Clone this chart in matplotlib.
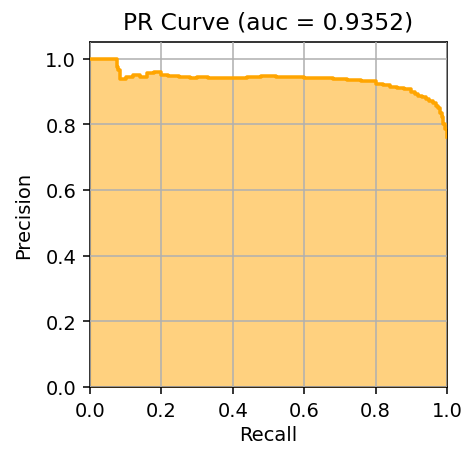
import matplotlib
matplotlib.use("Agg")
import matplotlib.pyplot as plt

# precision / recall pairs along the curve
recall = [0.0, 0.072, 0.075, 0.08, 0.084, 0.10, 0.12, 0.14, 0.16, 0.18, 0.20,
          0.22, 0.25, 0.28, 0.30, 0.33, 0.36, 0.40, 0.44, 0.48, 0.52, 0.56,
          0.60, 0.64, 0.68, 0.72, 0.76, 0.80, 0.82, 0.84, 0.86, 0.88, 0.90,
          0.91, 0.92, 0.93, 0.94, 0.95, 0.96, 0.97, 0.975, 0.98, 0.985, 0.99,
          0.995, 1.0]
precision = [1.0, 1.0, 0.975, 0.965, 0.938, 0.945, 0.95, 0.945, 0.955, 0.96, 0.95,
             0.948, 0.945, 0.94, 0.945, 0.94, 0.94, 0.94, 0.945, 0.946, 0.944, 0.943,
             0.942, 0.94, 0.937, 0.935, 0.932, 0.924, 0.918, 0.912, 0.91, 0.906, 0.898,
             0.892, 0.886, 0.882, 0.878, 0.872, 0.865, 0.855, 0.848, 0.835, 0.822, 0.80,
             0.785, 0.76]
auc_score = 0.9352

s = 1.4  # scale for fonts and line widths
plt.rcParams.update({
    'font.size': 10 * s,
    'axes.titlesize': 12 * s,
    'axes.linewidth': 0.8 * s,
    'grid.linewidth': 0.8 * s,
    'xtick.major.width': 0.8 * s,
    'ytick.major.width': 0.8 * s,
    'xtick.major.size': 3.5 * s,
    'ytick.major.size': 3.5 * s,
    'xtick.major.pad': 3.5 * s,
    'ytick.major.pad': 3.5 * s,
})

fig = plt.figure(figsize=(4.68, 4.52), dpi=100)
ax = fig.add_axes([0.192, 0.1416, 0.763, 0.763])
ax.step(recall, precision, where='post', color='orange', linewidth=1.8 * s, zorder=3)
ax.fill_between(recall, precision, step='post', color='orange', alpha=0.5)
ax.set_xlim(0, 1)
ax.set_ylim(0, 1.05)
ax.set_xlabel('Recall')
ax.set_ylabel('Precision', labelpad=9)
ax.set_title(f'PR Curve (auc = {auc_score:.4f})', pad=7 * s)
ax.grid(True)
ax.set_axisbelow(False)

fig.savefig('out.png', dpi=100)
